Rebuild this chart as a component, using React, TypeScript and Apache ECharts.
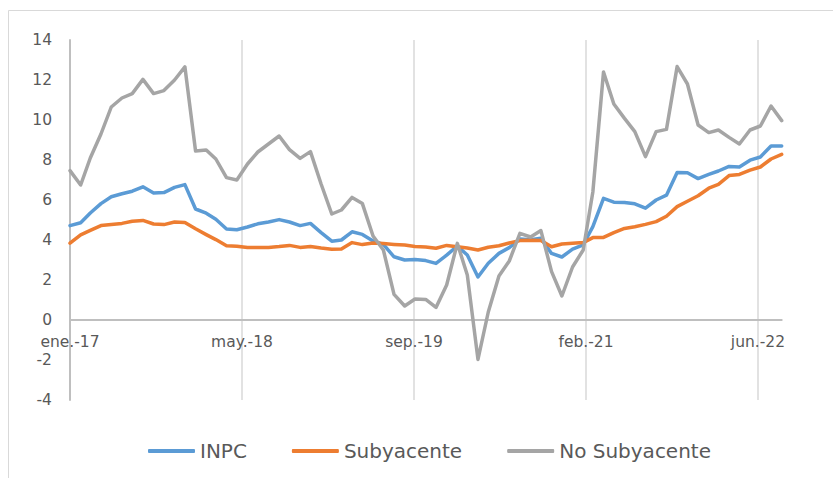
import React, { useEffect, useRef } from "react";
import * as echarts from "echarts";

const months = [
  "2017-01","2017-02","2017-03","2017-04","2017-05","2017-06","2017-07","2017-08","2017-09","2017-10","2017-11","2017-12",
  "2018-01","2018-02","2018-03","2018-04","2018-05","2018-06","2018-07","2018-08","2018-09","2018-10","2018-11","2018-12",
  "2019-01","2019-02","2019-03","2019-04","2019-05","2019-06","2019-07","2019-08","2019-09","2019-10","2019-11","2019-12",
  "2020-01","2020-02","2020-03","2020-04","2020-05","2020-06","2020-07","2020-08","2020-09","2020-10","2020-11","2020-12",
  "2021-01","2021-02","2021-03","2021-04","2021-05","2021-06","2021-07","2021-08","2021-09","2021-10","2021-11","2021-12",
  "2022-01","2022-02","2022-03","2022-04","2022-05","2022-06","2022-07","2022-08","2022-09",
];

const inpc = [
  4.72, 4.86, 5.35, 5.82, 6.16, 6.31, 6.44, 6.66, 6.35, 6.37, 6.63, 6.77,
  5.55, 5.34, 5.04, 4.55, 4.51, 4.65, 4.81, 4.9, 5.02, 4.9, 4.72, 4.83,
  4.37, 3.94, 4.0, 4.41, 4.28, 3.95, 3.78, 3.16, 3.0, 3.02, 2.97, 2.83,
  3.24, 3.7, 3.25, 2.15, 2.84, 3.33, 3.62, 4.05, 4.01, 4.09, 3.33, 3.15,
  3.54, 3.76, 4.67, 6.08, 5.89, 5.88, 5.81, 5.59, 6.0, 6.24, 7.37, 7.36,
  7.07, 7.28, 7.45, 7.68, 7.65, 7.99, 8.15, 8.7, 8.7,
];

const subyacente = [
  3.84, 4.26, 4.48, 4.72, 4.78, 4.83, 4.94, 4.98, 4.8, 4.77, 4.9, 4.87,
  4.56, 4.27, 4.02, 3.71, 3.69, 3.62, 3.63, 3.63, 3.67, 3.73, 3.63, 3.68,
  3.6, 3.54, 3.55, 3.87, 3.77, 3.85, 3.82, 3.78, 3.75, 3.68, 3.65, 3.59,
  3.73, 3.66, 3.6, 3.5, 3.64, 3.71, 3.85, 3.97, 3.99, 3.98, 3.66, 3.8,
  3.84, 3.87, 4.12, 4.13, 4.37, 4.58, 4.66, 4.78, 4.92, 5.19, 5.67, 5.94,
  6.21, 6.59, 6.78, 7.22, 7.28, 7.49, 7.65, 8.05, 8.28,
];

const noSubyacente = [
  7.47, 6.75, 8.1, 9.3, 10.65, 11.1, 11.32, 12.03, 11.32, 11.47, 12.0, 12.66,
  8.45, 8.5, 8.05, 7.12, 7.0, 7.8, 8.4, 8.8, 9.2, 8.52, 8.08, 8.42,
  6.8, 5.3, 5.5, 6.13, 5.82, 4.2, 3.5, 1.28, 0.7, 1.05, 1.03, 0.63,
  1.75, 3.83, 2.25, -1.97, 0.4, 2.2, 2.95, 4.33, 4.15, 4.47, 2.42, 1.2,
  2.65, 3.5, 6.4, 12.4, 10.8, 10.08, 9.42, 8.17, 9.42, 9.53, 12.67, 11.8,
  9.75, 9.37, 9.5, 9.13, 8.8, 9.5, 9.7, 10.7, 9.97,
];

const tickLabels = ["ene.-17", "may.-18", "sep.-19", "feb.-21", "jun.-22"];
const tickStepDays = 500;

const seriesNames = ["INPC", "Subyacente", "No Subyacente"];
const seriesColors = ["#5B9BD5", "#ED7D31", "#A5A5A5"];

const Y_MIN = -4;
const Y_MAX = 14;
const Y_STEP = 2;

const DAY = 86400000;
const origin = Date.UTC(2017, 0, 1);
const dayOffset = (m: string) => {
  const [y, mo] = m.split("-").map(Number);
  return Math.round((Date.UTC(y, mo - 1, 1) - origin) / DAY);
};

export default function App() {
  const ref = useRef<HTMLDivElement>(null);

  useEffect(() => {
    document.body.style.margin = "0";
    if (!ref.current) return;
    const chart = echarts.init(ref.current, undefined, { renderer: "svg" });
    const xs = months.map(dayOffset);
    const xMax = xs[xs.length - 1];
    const font = "DejaVu Sans";
    const values = [inpc, subyacente, noSubyacente];

    const gridTop = 40;
    const gridBottom = 78;
    const plotH = 478 - gridTop - gridBottom;
    // distance of the zero line above the grid's bottom edge
    const zeroOffset = ((0 - Y_MIN) / (Y_MAX - Y_MIN)) * plotH;

    chart.setOption({
      animation: false,
      textStyle: { fontFamily: font },
      graphic: [
        {
          type: "rect",
          shape: { x: 8.5, y: 10.5, width: 900, height: 500 },
          style: { fill: "none", stroke: "#d9d9d9", lineWidth: 1 },
          silent: true,
        },
      ],
      grid: { left: 70, right: 51.3, top: gridTop, bottom: gridBottom, containLabel: false },
      legend: {
        top: 436,
        left: 143,
        icon: "roundRect",
        itemWidth: 47,
        itemHeight: 4,
        itemGap: 45,
        textStyle: { fontFamily: font, fontSize: 20, color: "#595959" },
        data: seriesNames,
      },
      xAxis: [
        {
          type: "value",
          min: 0,
          max: xMax,
          interval: tickStepDays,
          axisLine: { show: false },
          axisTick: { show: false },
          axisLabel: { show: false },
          splitLine: {
            show: true,
            showMinLine: false,
            showMaxLine: false,
            lineStyle: { color: "#d9d9d9", width: 1.5 },
          },
        },
        {
          type: "value",
          position: "bottom",
          min: 0,
          max: xMax,
          interval: tickStepDays,
          offset: -zeroOffset,
          axisLine: { show: true, onZero: false, lineStyle: { color: "#bfbfbf", width: 2 } },
          axisTick: { show: false },
          splitLine: { show: false },
          axisLabel: {
            fontFamily: font,
            fontSize: 15.5,
            lineHeight: 14,
            color: "#595959",
            margin: 15,
            showMaxLabel: false,
            formatter: (v: number) =>
              v % tickStepDays === 0 ? tickLabels[v / tickStepDays] ?? "" : "",
          },
        },
      ],
      yAxis: {
        type: "value",
        min: Y_MIN,
        max: Y_MAX,
        interval: Y_STEP,
        axisLine: { show: true, onZero: false, lineStyle: { color: "#bfbfbf", width: 2 } },
        axisTick: { show: false },
        splitLine: { show: false },
        axisLabel: { fontFamily: font, fontSize: 15.5, lineHeight: 14, color: "#595959", margin: 18 },
      },
      series: seriesNames.map((name, k) => ({
        name,
        type: "line",
        xAxisIndex: 0,
        data: xs.map((x, i) => [x, values[k][i]]),
        showSymbol: false,
        symbol: "none",
        lineStyle: { width: 3.5, color: seriesColors[k], cap: "round", join: "round" },
        itemStyle: { color: seriesColors[k] },
      })),
    });

    return () => chart.dispose();
  }, []);

  return <div ref={ref} style={{ width: 833, height: 478 }} />;
}
